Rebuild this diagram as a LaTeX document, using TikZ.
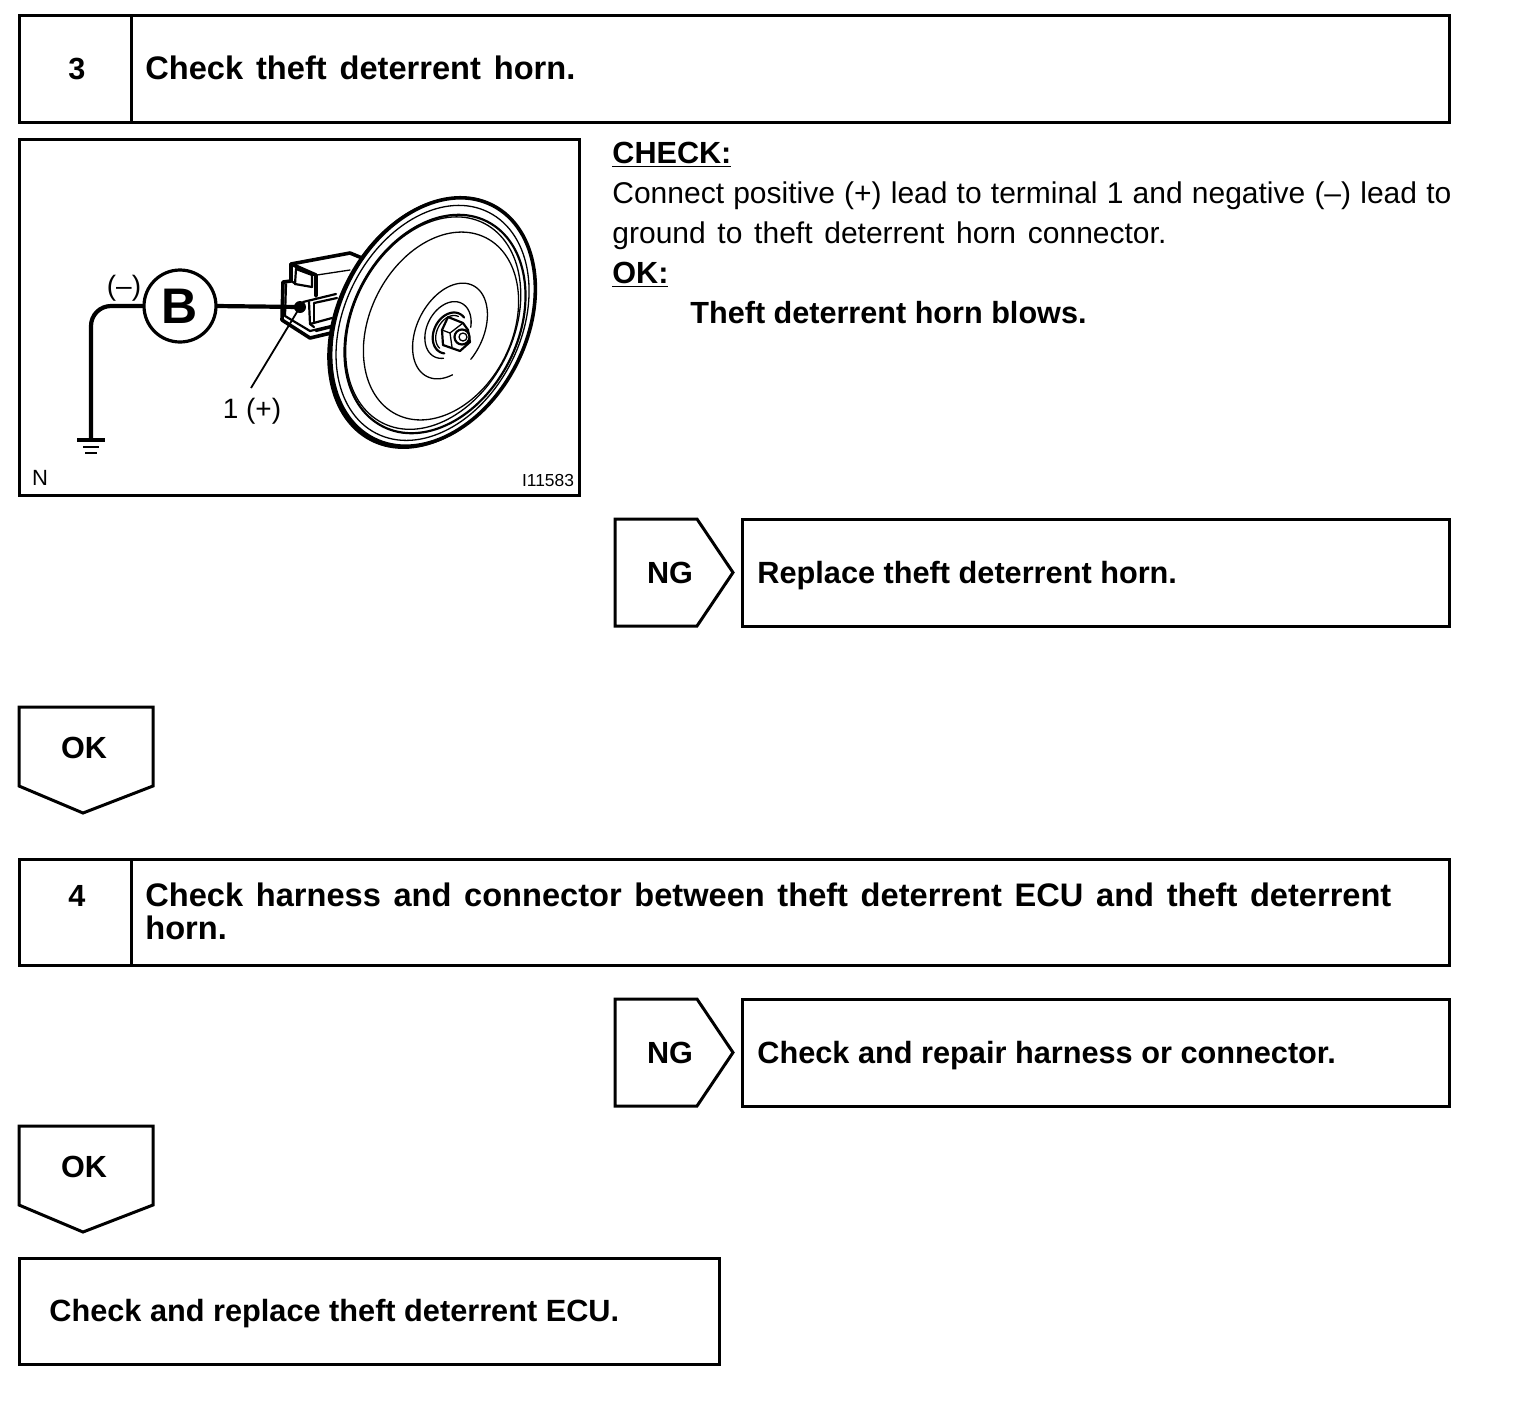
\documentclass[tikz,border=0pt]{standalone}
\usepackage{fontspec}
\setmainfont{Liberation Sans}
\tikzset{
  frame/.style={draw=black,line width=1.5pt,fill=none,line join=miter},
  boxnode/.style={frame,rectangle,inner sep=0pt,outer sep=0pt,anchor=north west},
  ttl/.style={anchor=base west,inner sep=0pt,font=\fontsize{15.35}{15.35}\bfseries\selectfont},
  ttlb/.style={anchor=base west,inner sep=0pt,font=\fontsize{16.3}{16.3}\bfseries\selectfont},
  ttlc/.style={anchor=base,inner sep=0pt,font=\fontsize{15.3}{15.3}\bfseries\selectfont},
  body/.style={anchor=base west,inner sep=0pt,font=\fontsize{15}{15}\selectfont},
  bodyb/.style={anchor=base west,inner sep=0pt,font=\fontsize{15.3}{15.3}\bfseries\selectfont},
  fig/.style={inner sep=0pt,font=\fontsize{14}{14}\selectfont},
  tiny/.style={inner sep=0pt,font=\fontsize{8.7}{8.7}\selectfont},
  thick1/.style={line width=1.8pt,line cap=round,line join=round},
  mid1/.style={line width=1.1pt,line cap=round,line join=round},
  thin1/.style={line width=.65pt,line cap=round,line join=round},
  lead/.style={line width=2.1pt,line join=round},
  horn/.style={shift={(#1)},rotate=-27},
}
\begin{document}
\begin{tikzpicture}[x=.5pt,y=-.5pt]
\useasboundingbox (0,0) rectangle (1520,1404);
% frames
\node[boxnode,minimum width=715pt,minimum height=53.5pt] (s3) at (19,15) {};
\draw[frame] (131,15) -- (131,122);
\node[ttlc] (n3) at (77,79) {3};
\node[ttlb] (t3) at (145,79) {\makebox[215pt][s]{Check theft deterrent horn.}};
\node[boxnode,minimum width=280pt,minimum height=178pt] (figbox) at (19,139) {};
% right text
\node[bodyb] (chk) at (612,163) {\underline{CHECK:}};
\node[body] (l1) at (612,203) {\makebox[419.5pt][s]{Connect positive (+) lead to terminal 1 and negative (–) lead to}};
\node[body] (l2) at (612,243) {\makebox[277pt][s]{ground to theft deterrent horn connector.}};
\node[bodyb] (okh) at (612,283) {\underline{OK:}};
\node[bodyb] (l3) at (690,323) {Theft deterrent horn blows.};
% NG 1
\draw[frame] (615,519) -- (697,519) -- (733,572.5) -- (697,626) -- (615,626) -- cycle;
\node[ttlc] (ng1) at (670,583) {NG};
\node[boxnode,minimum width=353.5pt,minimum height=53.5pt] (r1) at (742,519) {};
\node[ttl] (r1t) at (757,583) {Replace theft deterrent horn.};
% OK 1
\draw[frame] (19,707) -- (153,707) -- (153,786) -- (83,813) -- (19,786) -- cycle;
\node[ttlc] (ok1) at (84,758) {OK};
% step 4
\node[boxnode,minimum width=715pt,minimum height=53pt] (s4) at (19,859) {};
\draw[frame] (131,859) -- (131,965);
\node[ttlc] (n4) at (77,906) {4};
\node[ttlb] (t4a) at (145,906) {\makebox[623pt][s]{Check harness and connector between theft deterrent ECU and theft deterrent}};
\node[ttlb] (t4b) at (145,939) {horn.};
% NG 2
\draw[frame] (615,999) -- (697,999) -- (733,1052.5) -- (697,1106) -- (615,1106) -- cycle;
\node[ttlc] (ng2) at (670,1063) {NG};
\node[boxnode,minimum width=353.5pt,minimum height=53.5pt] (r2) at (742,999) {};
\node[ttl] (r2t) at (757,1063) {Check and repair harness or connector.};
% OK 2
\draw[frame] (19,1126) -- (153,1126) -- (153,1205) -- (83,1232) -- (19,1205) -- cycle;
\node[ttlc] (ok2) at (84,1177) {OK};
% end
\node[boxnode,minimum width=350pt,minimum height=53pt] (e) at (19,1258) {};
\node[ttl] (et) at (49,1321) {Check and replace theft deterrent ECU.};

% ---- figure: connector
\draw[thick1,fill=white] (291,264) -- (350,253) -- (362,258) -- (345,340) -- (331,333) -- (310,338) -- (282,320) -- (283,282) -- (291,281) -- cycle;
\draw[mid1] (296,269) -- (312,275) -- (312,287);
\draw[mid1] (296,269) -- (295,284);
\draw[thick1] (291,264) -- (316,275) -- (316,296);
\draw[thin1] (317,275) -- (350,270);
\draw[mid1] (286,284) -- (285,316) -- (310,331) -- (331,326);
\draw[mid1] (295,284) -- (312,287);
\draw[mid1] (291,281) -- (296,284);
\draw[mid1] (303,302) -- (336,294);
\draw[mid1] (309,302) -- (310,324) -- (332,318);
\draw[mid1] (314,303) -- (337,298);
\draw[thin1] (314,303) -- (314,322);
\draw[mid1] (310,324) -- (314,327);
\draw[mid1] (316,331) -- (332,327);
% ---- figure: horn
\begin{scope}[horn={431,323}]
  \draw[thick1,fill=white] (0,0) circle[x radius=93,y radius=131];
\end{scope}
\begin{scope}[horn={433,322}]
  \draw[thick1,fill=white] (0,0) circle[x radius=93.5,y radius=131];
  \draw[thin1] (0,1) circle[x radius=88,y radius=124];
\end{scope}
\begin{scope}[horn={435,324}]
  \draw[mid1] (0,0) circle[x radius=83,y radius=115];
  \draw[thin1] (-2,0) circle[x radius=80,y radius=112];
\end{scope}
\begin{scope}[horn={441,326}]
  \draw[thin1] (0,0) circle[x radius=71,y radius=99];
\end{scope}
% spiral arcs
\begin{scope}[horn={450,331}]
  \draw[thin1] plot[domain=18:-312,samples=80,smooth] ({33*cos(\x)},{51*sin(\x)});
\end{scope}
\begin{scope}[horn={448,330}]
  \draw[thin1] plot[domain=-25:-295,samples=60,smooth] ({21*cos(\x)},{30*sin(\x)});
\end{scope}
\begin{scope}[horn={450,333}]
  \draw[mid1] plot[domain=-70:-285,samples=50,smooth] ({16*cos(\x)},{21.5*sin(\x)});
  \draw[thin1] plot[domain=-90:-260,samples=40,smooth] ({13*cos(\x)},{18.5*sin(\x)});
\end{scope}
% nut
\draw[mid1,fill=white] (448,317) -- (463,323) -- (468,330) -- (470,342) -- (460,351) -- (443,345) -- (442,330) -- cycle;
\draw[thin1] (442,330) -- (450,333) -- (463,323);
\draw[thin1] (450,333) -- (452,347);
\draw[mid1,fill=white] (462,337) circle[radius=7.5];
\draw[thin1] (463,337) circle[radius=4];
% ---- figure: wiring
\node[circle,draw=black,line width=1.6pt,minimum size=36pt,inner sep=0pt,outer sep=0pt,font=\fontsize{25}{25}\bfseries\selectfont] (B) at (180,306) {B};
\coordinate (term) at (300,307);
\coordinate (gnd) at (91,440);
\fill (term) circle[radius=6];
\draw[lead] (B.east) -- (term);
\draw[lead,rounded corners=10pt] (B.west) -- (91,306) -- (gnd);
\draw[line width=1.6pt] (77,440) -- (105,440);
\draw[line width=.7pt] (83,447) -- (99,447);
\draw[line width=.7pt] (85,453) -- (97,453);
\node[fig] (neg) at (124,288.5) {(–)};
\node[fig] (pos) at (252,411) {1 (+)};
\coordinate (posl) at (251,388);
\draw[line width=.9pt] (posl) -- (term);
\node[fig,font=\fontsize{11}{11}\selectfont] (N) at (40,478) {N};
\node[tiny] (code) at (548,480) {I11583};
\end{tikzpicture}
\end{document}
